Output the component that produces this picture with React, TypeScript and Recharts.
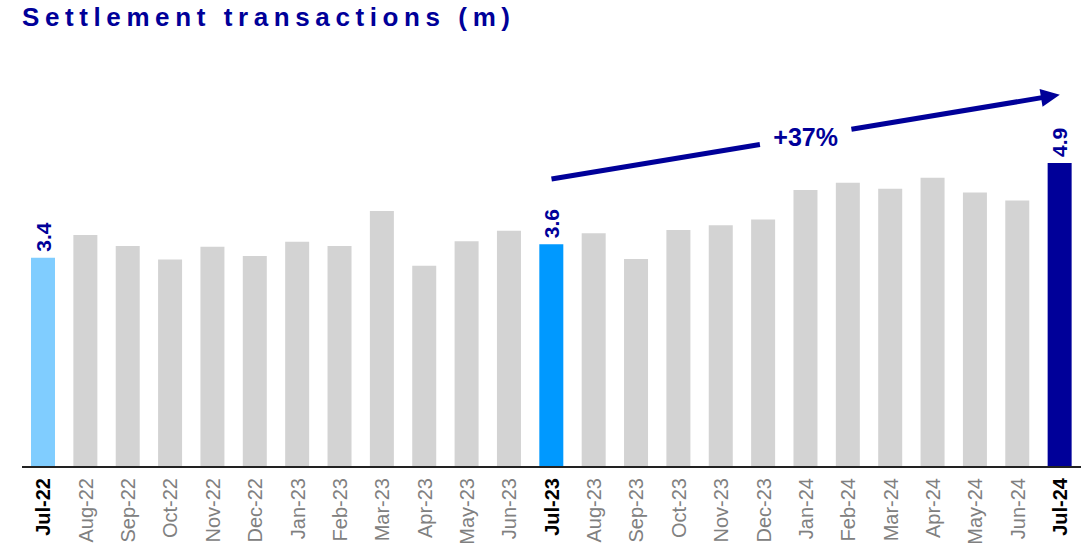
import { Bar, BarChart, Cell, LabelList, ReferenceLine, XAxis, YAxis } from "recharts";

const months = [
  "Jul-22", "Aug-22", "Sep-22", "Oct-22", "Nov-22", "Dec-22", "Jan-23", "Feb-23", "Mar-23",
  "Apr-23", "May-23", "Jun-23", "Jul-23", "Aug-23", "Sep-23", "Oct-23", "Nov-23", "Dec-23",
  "Jan-24", "Feb-24", "Mar-24", "Apr-24", "May-24", "Jun-24", "Jul-24",
];
const transactions = [
  3.4, 3.77, 3.59, 3.37, 3.58, 3.43, 3.66, 3.59, 4.16, 3.27, 3.67, 3.84, 3.62, 3.8, 3.38, 3.85,
  3.93, 4.02, 4.5, 4.62, 4.52, 4.7, 4.46, 4.33, 4.94,
];
const valueLabels: Record<string, string> = { "Jul-22": "3.4", "Jul-23": "3.6", "Jul-24": "4.9" };
const barColors: Record<string, string> = { "Jul-22": "#80cdff", "Jul-23": "#0099ff", "Jul-24": "#000099" };
const growthStart = { month: "Jul-23", value: 4.68 };
const growthEnd = { month: "Jul-24", value: 6.05 };
const growthLabel = "+37%";

const data = months.map((month, i) => ({ month, value: transactions[i] }));

const FONT = "Arial, 'Liberation Sans', sans-serif";
const NAVY = "#000099";

function MonthTick({ x, y, payload }: any) {
  const key = valueLabels[payload.value] !== undefined;
  return (
    <text
      transform={`translate(${x},${y + 3}) rotate(-90)`}
      textAnchor="end"
      dy="0.36em"
      fontFamily={FONT}
      fontSize={20}
      fontWeight={key ? 700 : 400}
      fill={key ? "#000000" : "#808080"}
    >
      {payload.value}
    </text>
  );
}

function ValueLabel({ x, y, width, value }: any) {
  const text = valueLabels[value];
  if (!text) return null;
  return (
    <text
      transform={`translate(${x + width / 2},${y - 6}) rotate(-90)`}
      textAnchor="start"
      dy="0.36em"
      fontFamily={FONT}
      fontSize={21}
      fontWeight={700}
      fill={NAVY}
    >
      {text}
    </text>
  );
}

function GrowthArrow({ x1, y1, x2, y2 }: any) {
  const dx = x2 - x1;
  const dy = y2 - y1;
  const len = Math.hypot(dx, dy);
  const ux = dx / len;
  const uy = dy / len;
  const at = (t: number) => [x1 + dx * t, y1 + dy * t];
  const [g1x, g1y] = at(0.41);
  const [g2x, g2y] = at(0.59);
  const head = 19;
  const half = 9;
  const bx = x2 - ux * head;
  const by = y2 - uy * head;
  const [mx, my] = at(0.5);
  return (
    <g>
      <line x1={x1} y1={y1} x2={g1x} y2={g1y} stroke={NAVY} strokeWidth={5} />
      <line x1={g2x} y1={g2y} x2={bx + ux} y2={by + uy} stroke={NAVY} strokeWidth={5} />
      <polygon
        points={`${x2},${y2} ${bx - uy * half},${by + ux * half} ${bx + uy * half},${by - ux * half}`}
        fill={NAVY}
      />
      <text x={mx} y={my} textAnchor="middle" dominantBaseline="central" fontFamily={FONT} fontSize={25} fontWeight={700} fill={NAVY}>
        {growthLabel}
      </text>
    </g>
  );
}

export default function App() {
  return (
    <div style={{ position: "fixed", left: 0, top: 0, width: 1092, height: 547, background: "#fff" }}>
      <div
        style={{
          position: "absolute",
          left: 22,
          top: 2,
          fontFamily: FONT,
          fontSize: 26,
          fontWeight: 700,
          letterSpacing: 5.6,
          color: NAVY,
        }}
      >
        Settlement transactions (m)
      </div>
      <BarChart width={1092} height={547} data={data} margin={{ top: 67, right: 11, left: 22, bottom: 0 }}>
        <XAxis
          dataKey="month"
          interval={0}
          height={80}
          tickLine={false}
          axisLine={{ stroke: "#222222", strokeWidth: 2 }}
          tick={<MonthTick />}
        />
        <YAxis hide domain={[0, 6.5]} />
        <Bar dataKey="value" barSize={24} isAnimationActive={false}>
          {data.map((d) => (
            <Cell key={d.month} fill={barColors[d.month] ?? "#d3d3d3"} />
          ))}
          <LabelList dataKey="month" content={<ValueLabel />} />
        </Bar>
        <ReferenceLine
          segment={[
            { x: growthStart.month, y: growthStart.value },
            { x: growthEnd.month, y: growthEnd.value },
          ]}
          ifOverflow="visible"
          shape={(p: any) => <GrowthArrow {...p} />}
        />
      </BarChart>
    </div>
  );
}
